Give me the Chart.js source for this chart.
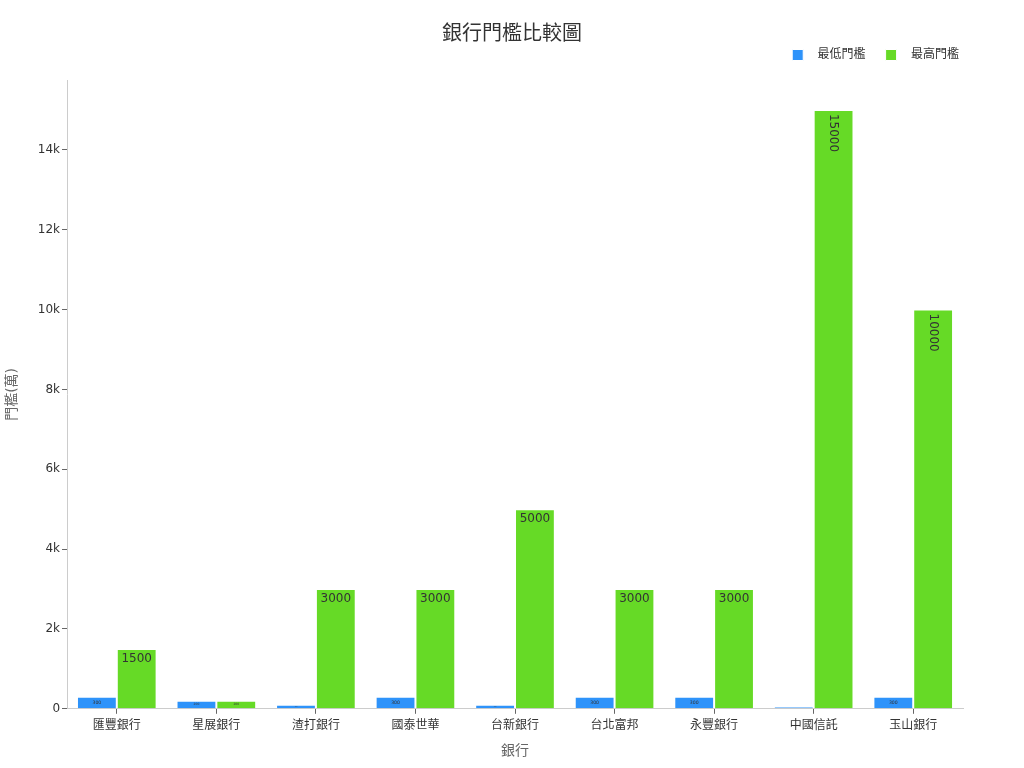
<!DOCTYPE html>
<html>
<head>
<meta charset="utf-8">
<script src="https://cdn.jsdelivr.net/npm/chart.js@4/dist/chart.umd.min.js"></script>
<style>
  html, body { margin: 0; padding: 0; background: #fff; }
  #wrap { width: 1024px; height: 768px; }
</style>
</head>
<body>
<div id="wrap"><canvas id="chart"></canvas></div>
<script>
const banks = ['匯豐銀行', '星展銀行', '渣打銀行', '國泰世華', '台新銀行', '台北富邦', '永豐銀行', '中國信託', '玉山銀行'];
const minValues = [300, 200, 100, 300, 100, 300, 300, 50, 300];
const maxValues = [1500, 200, 3000, 3000, 5000, 3000, 3000, 15000, 10000];
const seriesNames = ['最低門檻', '最高門檻'];
const yTicks = [0, 2000, 4000, 6000, 8000, 10000, 12000, 14000];
const colors = ['#2E93FA', '#66DA26'];
const fontFamily = '"DejaVu Sans", "Noto Sans CJK TC", sans-serif';

// label inside each bar, near the top
const barLabels = {
    id: 'barLabels',
    afterDatasetsDraw(chart) {
        const ctx = chart.ctx;
        chart.data.datasets.forEach((ds, i) => {
            chart.getDatasetMeta(i).data.forEach((bar, j) => {
                let text = String(ds.data[j]);
                let h = bar.base - bar.y;
                let w = bar.width;
                let size = Math.min(12, h * 0.4);
                if (size < 1) return;
                ctx.save();
                ctx.fillStyle = '#333';
                ctx.font = size + 'px ' + fontFamily;
                let tw = ctx.measureText(text).width;
                if (tw > w - 4 && h > tw + 10) {
                    ctx.translate(bar.x, bar.y + 4);
                    ctx.rotate(Math.PI / 2);
                    ctx.textAlign = 'left';
                    ctx.textBaseline = 'middle';
                    ctx.fillText(text, 0, 0);
                } else {
                    ctx.textAlign = 'center';
                    ctx.textBaseline = h > 20 ? 'top' : 'middle';
                    ctx.fillText(text, bar.x, h > 20 ? bar.y + 4 : bar.y + h / 2);
                }
                ctx.restore();
            });
        });
    }
};

// legend gets a bit of room below it; title centred on the page, legend pushed right
const boxTweaks = {
    id: 'boxTweaks',
    beforeInit(chart) {
        const fit = chart.legend.fit;
        chart.legend.fit = function () {
            fit.bind(chart.legend)();
            this.height += 9;
        };
    },
    afterLayout(chart) {
        chart.titleBlock.left = 0;
        chart.titleBlock.right = chart.width;
        chart.legend.right = chart.width - 45;
    }
};

new Chart(document.getElementById('chart'), {
    type: 'bar',
    data: {
        labels: banks,
        datasets: [
            { label: seriesNames[0], data: minValues, backgroundColor: colors[0], borderColor: '#ffffff', borderWidth: 1 },
            { label: seriesNames[1], data: maxValues, backgroundColor: colors[1], borderColor: '#ffffff', borderWidth: 1 }
        ]
    },
    plugins: [barLabels, boxTweaks],
    options: {
        responsive: true,
        maintainAspectRatio: false,
        animation: false,
        layout: { padding: { left: 0, right: 61, top: 12, bottom: 4 } },
        datasets: { bar: { categoryPercentage: 0.8, barPercentage: 1.0 } },
        plugins: {
            title: {
                display: true,
                text: '銀行門檻比較圖',
                color: '#333',
                font: { family: fontFamily, size: 20, weight: 'normal', lineHeight: 1.2 },
                padding: { top: 11, bottom: -18 }
            },
            legend: {
                align: 'end',
                labels: {
                    color: '#333',
                    boxWidth: 11,
                    boxHeight: 11,
                    padding: 20,
                    font: { family: fontFamily, size: 12 },
                    generateLabels: chart => Chart.defaults.plugins.legend.labels.generateLabels(chart)
                        .map(item => Object.assign(item, { text: '\u2002\u2009' + item.text }))
                }
            },
            tooltip: { enabled: false }
        },
        scales: {
            x: {
                title: { display: true, text: '銀行', color: '#666', font: { family: fontFamily, size: 14 }, padding: { top: 5, bottom: 4 } },
                grid: { display: true, drawOnChartArea: false, tickLength: 5, color: '#666', offset: false },
                border: { color: '#ccc' },
                ticks: { color: '#333', font: { family: fontFamily, size: 12 }, padding: 5 }
            },
            y: {
                min: 0,
                max: 15750,
                title: { display: true, text: '門檻(萬)', color: '#666', font: { family: fontFamily, size: 14 }, padding: { top: 4, bottom: 15 } },
                grid: { display: true, drawOnChartArea: false, tickLength: 5, color: '#666' },
                border: { color: '#ccc' },
                afterBuildTicks: axis => { axis.ticks = yTicks.map(v => ({ value: v })); },
                ticks: {
                    color: '#333',
                    padding: 2,
                    font: { family: fontFamily, size: 12 },
                    callback: v => v === 0 ? '0' : (v / 1000) + 'k'
                }
            }
        }
    }
});
</script>
</body>
</html>
